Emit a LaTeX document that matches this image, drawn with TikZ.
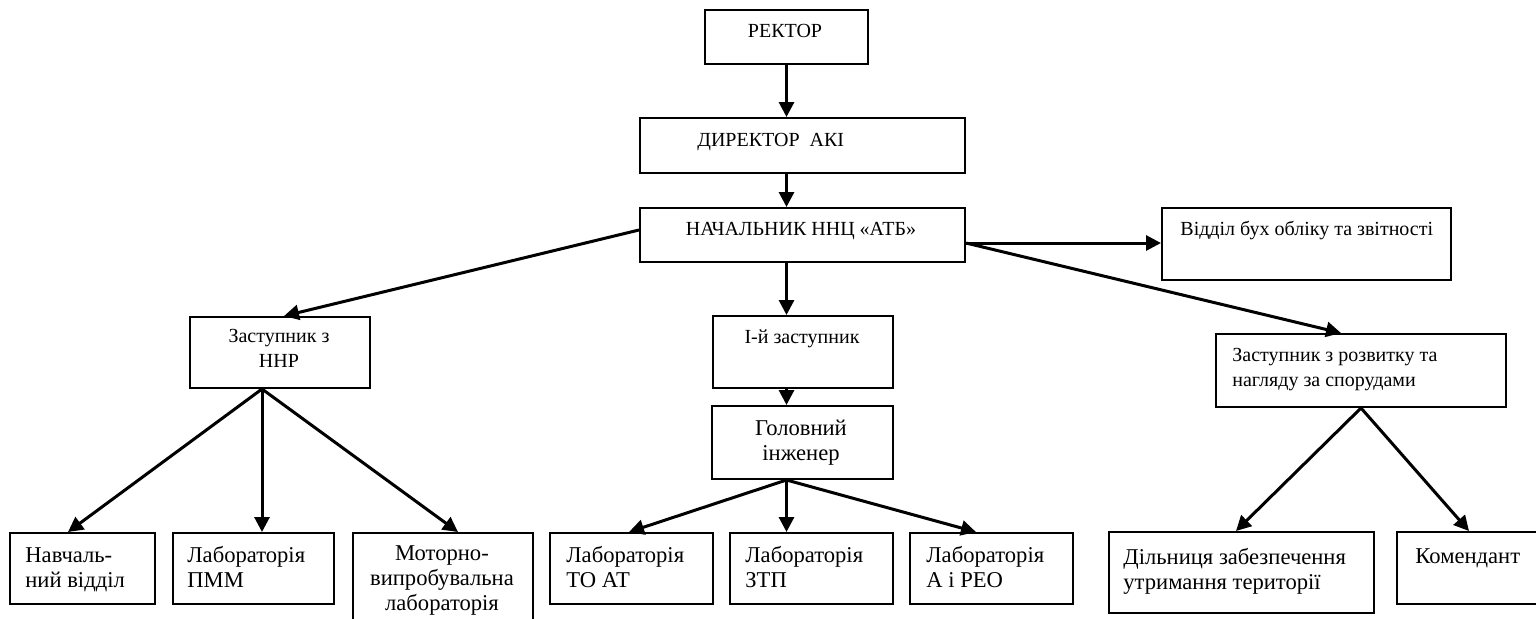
\documentclass[tikz,border=0pt]{standalone}
\usepackage{fontspec}
\setmainfont{Liberation Serif}
\usetikzlibrary{arrows.meta}

\tikzset{
  unit/.style={draw, line width=1pt, inner sep=0pt, anchor=north west},
  lbl/.style={inner sep=0pt, font=\fontsize{10pt}{12.5pt}\selectfont},
  lblbig/.style={inner sep=0pt, font=\fontsize{11.3pt}{12.5pt}\selectfont},
  link/.style={line width=1.5pt, -{Triangle[length=7.5pt, width=7.5pt]}}
}

\begin{document}
\begin{tikzpicture}[x=0.5pt, y=-0.5pt]
	\useasboundingbox (0,0) rectangle (1536,618);
	% boxes
	\node[unit, minimum width=81.5pt, minimum height=27pt] (rector) at (704,9) {};
	\node[unit, minimum width=162.5pt, minimum height=27.5pt] (director) at (639,117) {};
	\node[unit, minimum width=162.5pt, minimum height=27pt] (head) at (639,207) {};
	\node[unit, minimum width=144.5pt, minimum height=36pt] (buh) at (1161,207) {};
	\node[unit, minimum width=90pt, minimum height=36pt] (first) at (712,315) {};
	\node[unit, minimum width=90.5pt, minimum height=36.5pt] (chiefeng) at (711,405) {};
	\node[unit, minimum width=90pt, minimum height=35.5pt] (zamnnr) at (189,316) {};
	\node[unit, minimum width=145pt, minimum height=36.5pt] (zamrozv) at (1215,333) {};
	\node[unit, minimum width=72.5pt, minimum height=35.5pt] (navch) at (9,532) {};
	\node[unit, minimum width=80.5pt, minimum height=35.5pt] (pmm) at (172,532) {};
	\node[unit, minimum width=90pt, minimum height=50pt] (motor) at (352,532) {};
	\node[unit, minimum width=81.5pt, minimum height=35.5pt] (toat) at (549,532) {};
	\node[unit, minimum width=81.5pt, minimum height=35.5pt] (ztp) at (729,532) {};
	\node[unit, minimum width=81.5pt, minimum height=35.5pt] (areo) at (909,532) {};
	\node[unit, minimum width=132.5pt, minimum height=40.5pt] (dilnyts) at (1108,531) {};
	\node[unit, minimum width=75pt, minimum height=36pt] (komend) at (1396,531) {};
	% texts (multi-line ones sit on the baseline of their last line)
	\node[lbl, anchor=base] (rectortxt) at (785,37) {РЕКТОР};
	\node[lbl, anchor=base west] (directortxt) at (697,146) {ДИРЕКТОР\ \ АКІ};
	\node[lbl, anchor=base] (headtxt) at (801,235) {НАЧАЛЬНИК ННЦ «АТБ»};
	\node[lbl, anchor=base west] (buhtxt) at (1180,235) {Відділ бух обліку та звітності};
	\node[lbl, anchor=base] (firsttxt) at (802,343) {І-й заступник};
	\node[lbl, anchor=base, align=center] (zamnnrtxt) at (279,367) {Заступник з\\ННР};
	\node[lbl, anchor=base west, align=left] (zamrozvtxt) at (1232,386) {Заступник з розвитку та\\нагляду за спорудами};
	\node[lblbig, anchor=base, align=center] (chiefengtxt) at (801,460) {Головний\\інженер};
	\node[lblbig, anchor=base west, align=left] (navchtxt) at (25,587) {Навчаль-\\ний відділ};
	\node[lblbig, anchor=base west, align=left] (pmmtxt) at (187,587) {Лабораторія\\ПММ};
	\node[lblbig, anchor=base, align=center] (motortxt) at (442,610) {Моторно-\\випробувальна\\лабораторія};
	\node[lblbig, anchor=base west, align=left] (toattxt) at (566,587) {Лабораторія\\ТО АТ};
	\node[lblbig, anchor=base west, align=left] (ztptxt) at (745,587) {Лабораторія\\ЗТП};
	\node[lblbig, anchor=base west, align=left] (areotxt) at (926,587) {Лабораторія\\А і РЕО};
	\node[lblbig, anchor=base west, align=left] (dilnytstxt) at (1123,589) {Дільниця забезпечення\\утримання території};
	\node[lblbig, anchor=base west] (komendtxt) at (1415,563) {Комендант};
	% connectors
	\draw[link] (rector.south) -- (rector.south |- director.north);
	\draw[link] (rector.south |- director.south) -- (rector.south |- head.north);
	\draw[link] (rector.south |- head.south) -- (rector.south |- first.north);
	\draw[link] (rector.south |- first.south) -- (rector.south |- chiefeng.north);
	\coordinate (headright) at (head.east |- 0,243);
	\draw[link] (headright) -- (headright -| buh.west);
	\draw[link] (headright) -- ([xshift=-10pt]zamrozv.north);
	\draw[link] ([yshift=2.5pt]head.west) -- ([xshift=2pt]zamnnr.north);
	\coordinate (nnrfoot) at ([xshift=-9pt]zamnnr.south);
	\draw[link] (nnrfoot) -- ([xshift=-7.25pt]navch.north);
	\draw[link] (nnrfoot) -- (nnrfoot |- pmm.north);
	\draw[link] (nnrfoot) -- ([xshift=7.5pt]motor.north);
	\coordinate (engfoot) at (rector.south |- chiefeng.south);
	\draw[link] (engfoot) -- ([xshift=-1.25pt]toat.north);
	\draw[link] (engfoot) -- (engfoot |- ztp.north);
	\draw[link] (engfoot) -- ([xshift=-7.75pt]areo.north);
	\coordinate (rozvfoot) at (zamrozv.south);
	\draw[link] (rozvfoot) -- ([xshift=-2.75pt]dilnyts.north);
	\draw[link] (rozvfoot) -- ([xshift=-1.5pt]komend.north);
\end{tikzpicture}
\end{document}
